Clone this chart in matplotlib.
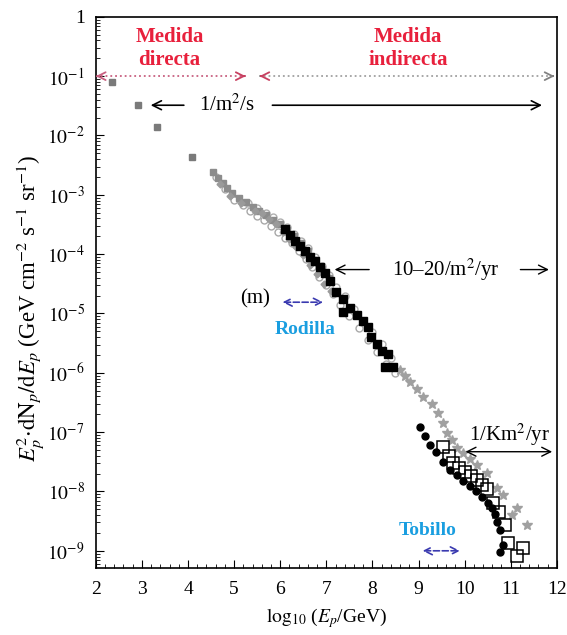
import numpy as np
import matplotlib
matplotlib.use('Agg')
import matplotlib.pyplot as plt
from matplotlib.ticker import FixedLocator, FuncFormatter, LogLocator, NullFormatter

plt.rcParams['font.family'] = ['Liberation Serif', 'DejaVu Serif']
plt.rcParams['mathtext.fontset'] = 'stix'

# datos: x = log10(E/GeV), y = log10(flujo)
dir_x = [2.35, 2.91, 3.32, 4.08]
dir_ly = [-1.10, -1.49, -1.86, -2.36]

gris_x = [4.55, 4.65, 4.75, 4.85, 4.95, 5.10, 5.25, 5.40, 5.55, 5.70, 5.85, 6.00,
          6.15, 6.30, 6.45, 6.60, 6.75, 6.90, 7.05]
gris_ly = [-2.62, -2.72, -2.80, -2.88, -2.97, -3.05, -3.12, -3.20, -3.27, -3.34, -3.42,
           -3.50, -3.60, -3.70, -3.82, -3.95, -4.10, -4.25, -4.40]

gris2_x = [4.70, 4.90, 5.15, 5.45, 5.60, 5.75, 5.90, 6.05, 6.20, 6.35, 6.50, 6.65, 6.80,
           6.95, 7.10]
gris2_ly = [-2.82, -3.02, -3.14, -3.28, -3.31, -3.40, -3.49, -3.62, -3.75, -3.88, -4.02,
            -4.18, -4.34, -4.50, -4.62]

circ_x = [4.60, 4.80, 5.00, 5.20, 5.35, 5.50, 5.65, 5.80, 5.95, 6.10, 6.25, 6.40, 6.55,
          6.70, 6.85, 7.00, 7.15, 7.30, 7.50, 7.70, 7.90, 8.10, 8.30, 8.50]
circ_ly = [-2.70, -2.90, -3.08, -3.18, -3.28, -3.35, -3.42, -3.52, -3.62, -3.72, -3.82,
           -3.95, -4.08, -4.22, -4.38, -4.52, -4.68, -4.85, -5.05, -5.25, -5.45, -5.65,
           -5.85, -6.00]

circ2_x = [5.30, 5.50, 5.70, 5.85, 6.00, 6.15, 6.30, 6.45, 6.60, 6.75, 6.90, 7.05, 7.20,
           7.40, 7.60, 7.80, 8.00, 8.20, 8.40]
circ2_ly = [-3.14, -3.22, -3.30, -3.38, -3.46, -3.55, -3.66, -3.78, -3.90, -4.05, -4.20,
            -4.35, -4.55, -4.70, -4.92, -5.12, -5.32, -5.52, -5.75]

negro_x = [6.10, 6.21, 6.32, 6.43, 6.53, 6.64, 6.75, 6.86, 6.97, 7.08, 7.21, 7.36, 7.36,
           7.51, 7.66, 7.79, 7.90, 7.97, 8.10, 8.20, 8.33, 8.27, 8.44]
negro_ly = [-3.58, -3.68, -3.77, -3.87, -3.95, -4.04, -4.12, -4.22, -4.31, -4.46, -4.63,
            -4.76, -4.97, -4.90, -5.03, -5.12, -5.22, -5.39, -5.52, -5.64, -5.68, -5.90,
            -5.90]

estr_x = [8.59, 8.70, 8.81, 8.96, 9.09, 9.29, 9.42, 9.53, 9.61, 9.72, 9.83, 9.96, 10.11,
          10.26, 10.48, 10.70, 10.83, 11.02, 11.13, 11.35]
estr_ly = [-5.95, -6.05, -6.15, -6.28, -6.40, -6.52, -6.67, -6.84, -7.01, -7.13, -7.26,
           -7.35, -7.45, -7.55, -7.69, -7.94, -8.06, -8.40, -8.28, -8.56]

punto_x = [9.03, 9.14, 9.25, 9.38, 9.53, 9.68, 9.83, 9.96, 10.11, 10.24, 10.37, 10.50,
           10.59, 10.66, 10.70, 10.76, 10.83, 10.76]
punto_ly = [-6.91, -7.06, -7.21, -7.33, -7.50, -7.64, -7.72, -7.82, -7.91, -7.99, -8.09,
            -8.19, -8.28, -8.38, -8.51, -8.65, -8.90, -9.02]

abierto_x = [9.53, 9.66, 9.74, 9.87, 10.00, 10.13, 10.26, 10.37, 10.48, 10.61, 10.74,
             10.87, 10.94, 11.26, 11.13]
abierto_ly = [-7.25, -7.40, -7.52, -7.60, -7.67, -7.74, -7.80, -7.89, -7.96, -8.19, -8.34,
              -8.56, -8.87, -8.95, -9.09]

xticks = [2, 3, 4, 5, 6, 7, 8, 9, 10, 11, 12]
yexp = [0, -1, -2, -3, -4, -5, -6, -7, -8, -9]

fig = plt.figure(figsize=(5.67, 6.35), dpi=100)
ax = fig.add_axes([0.169, 0.1055, 0.813, 0.868])
ax.set_yscale('log')

def p(ly):
    return 10.0 ** np.array(ly)

ax.plot(circ_x, p(circ_ly), 'o', mfc='white', mec='#a8a8a8', ms=5, mew=1.0, zorder=2)
ax.plot(circ2_x, p(circ2_ly), 'o', mfc='white', mec='#b0b0b0', ms=5, mew=1.0, zorder=2)
ax.plot(gris_x, p(gris_ly), 's', color='#8c8c8c', ms=4, zorder=2)
ax.plot(gris2_x, p(gris2_ly), 'D', color='#9a9a9a', ms=3.5, zorder=2)
ax.plot(dir_x, p(dir_ly), 's', color='#7a7a7a', ms=4.5, zorder=3)
ax.plot(estr_x, p(estr_ly), '*', color='#a0a0a0', ms=7, zorder=2)
ax.plot(negro_x, p(negro_ly), 's', color='black', ms=5.5, zorder=3)
ax.plot(punto_x, p(punto_ly), 'o', color='black', ms=5, zorder=3)
ax.plot(abierto_x, p(abierto_ly), 's', mfc='none', mec='black', ms=8, mew=1.1, zorder=4)

ax.set_xlim(2, 12)
ax.set_ylim(10 ** -9.29, 1)
ax.xaxis.set_major_locator(FixedLocator(xticks))
ax.xaxis.set_minor_locator(FixedLocator(np.arange(2, 12.01, 0.2)))
ax.yaxis.set_major_locator(FixedLocator([10.0 ** e for e in yexp]))
ax.yaxis.set_minor_locator(LogLocator(base=10, subs=np.arange(2, 10), numticks=20))
ax.yaxis.set_minor_formatter(NullFormatter())

def fmt_y(v, pos):
    e = int(round(np.log10(v)))
    if e == 0:
        return '1'
    return r'$10^{%d}$' % e

ax.yaxis.set_major_formatter(FuncFormatter(fmt_y))
ax.tick_params(which='both', direction='in', top=False, right=False, labelsize=14)
ax.tick_params(which='major', length=6)
ax.tick_params(which='minor', length=3)
ax.tick_params(axis='y', pad=8)
ax.tick_params(axis='x', pad=9)
for s in ax.spines.values():
    s.set_linewidth(1.2)

ax.set_xlabel(r'$\mathrm{log}_{10}$ ($E_p$/GeV)', fontsize=14, labelpad=6)
ax.set_ylabel(r'$E_p^2{\cdot}\mathrm{dN}_p/\mathrm{d}E_p$ (GeV cm$^{-2}$ s$^{-1}$ sr$^{-1}$)',
              fontsize=16.5, labelpad=0)
ax.yaxis.set_label_coords(-0.108, 0.47)

rojo = '#e8203c'
azul = '#3a3ab0'
celeste = '#1a9ee0'

# medida directa / indirecta
ax.text(3.6, 10 ** -0.53, 'Medida\ndirecta', color=rojo, fontsize=15, fontweight='bold',
        ha='center', va='center', linespacing=1.2)
ax.text(8.77, 10 ** -0.53, 'Medida\nindirecta', color=rojo, fontsize=15, fontweight='bold',
        ha='center', va='center', linespacing=1.2)
y1 = 10 ** -1.0
ax.plot([2.0, 5.25], [y1, y1], ls=':', color='#c86080', lw=1.3)
ax.plot([5.55, 11.95], [y1, y1], ls=':', color='#a0a0a0', lw=1.3)
for xa, xb, c in [(2.1, 2.0, '#c86080'), (5.15, 5.25, '#c84060'),
                  (5.65, 5.55, '#c84060'), (11.85, 11.95, '#808080')]:
    ax.annotate('', xy=(xb, y1), xytext=(xa, y1),
                arrowprops=dict(arrowstyle='->', color=c, lw=1.3, mutation_scale=14))

# 1/m2/s
y2 = 10 ** -1.49
ax.annotate('', xy=(3.13, y2), xytext=(3.97, y2),
            arrowprops=dict(arrowstyle='->', color='black', lw=1.2, mutation_scale=16))
ax.text(4.84, y2, r'1/m$^2$/s', fontsize=15, ha='center', va='center')
ax.annotate('', xy=(11.74, y2), xytext=(5.77, y2),
            arrowprops=dict(arrowstyle='->', color='black', lw=1.2, mutation_scale=16))

# 10-20/m2/yr
y3 = 10 ** -4.26
ax.annotate('', xy=(7.12, y3), xytext=(7.99, y3),
            arrowprops=dict(arrowstyle='->', color='black', lw=1.0, mutation_scale=16))
ax.text(9.59, y3, r'10–20/m$^2$/yr', fontsize=15, ha='center', va='center')
ax.annotate('', xy=(11.89, y3), xytext=(11.15, y3),
            arrowprops=dict(arrowstyle='->', color='black', lw=1.0, mutation_scale=16))

# rodilla
ax.text(5.45, 10 ** -4.76, '(m)', fontsize=15, ha='center', va='center')
y4 = 10 ** -4.81
ax.annotate('', xy=(6.99, y4), xytext=(5.99, y4),
            arrowprops=dict(arrowstyle='<->', color=azul, lw=1.2, ls='--', mutation_scale=14))
ax.text(6.53, 10 ** -5.27, 'Rodilla', color=celeste, fontsize=14, fontweight='bold',
        ha='center', va='center')

# 1/Km2/yr
ax.text(10.98, 10 ** -7.04, r'1/Km$^2$/yr', fontsize=15, ha='center', va='center')
y5 = 10 ** -7.33
ax.annotate('', xy=(11.96, y5), xytext=(9.96, y5),
            arrowprops=dict(arrowstyle='<->', color='black', lw=1.0, mutation_scale=16))

# tobillo
ax.text(9.2, 10 ** -8.65, 'Tobillo', color=celeste, fontsize=14, fontweight='bold',
        ha='center', va='center')
y6 = 10 ** -9.0
ax.annotate('', xy=(9.96, y6), xytext=(9.03, y6),
            arrowprops=dict(arrowstyle='<->', color=azul, lw=1.2, ls='--', mutation_scale=14))

fig.savefig('out.png', dpi=100)
